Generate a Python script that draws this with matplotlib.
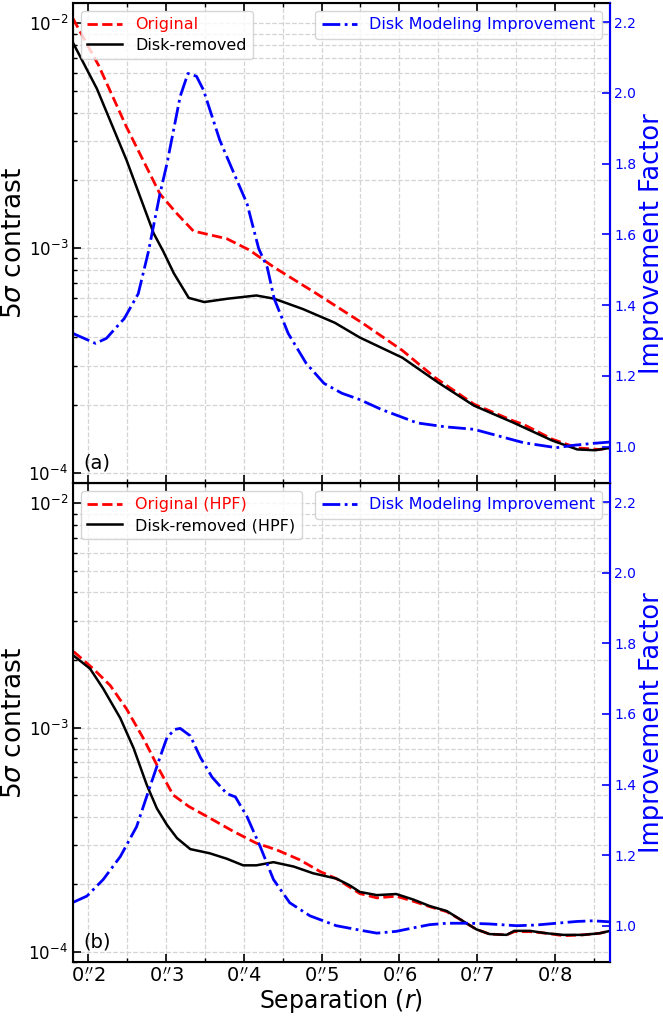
import numpy as np
import matplotlib
matplotlib.use('Agg')
import matplotlib.pyplot as plt
from matplotlib.ticker import FixedLocator, FuncFormatter, LogLocator, NullFormatter

# panel (a): full contrast curves
sep_a_orig = [0.180, 0.213, 0.249, 0.292, 0.314, 0.335, 0.378, 0.407, 0.439, 0.494, 0.554, 0.604,
              0.646, 0.696, 0.747, 0.760, 0.797, 0.829, 0.857, 0.871]
con_a_orig = [1.05e-2, 6.5e-3, 3.45e-3, 1.74e-3, 1.42e-3, 1.19e-3, 1.10e-3, 9.8e-4, 8.2e-4, 6.25e-4,
              4.6e-4, 3.5e-4, 2.65e-4, 2.02e-4, 1.70e-4, 1.64e-4, 1.41e-4, 1.29e-4, 1.27e-4, 1.29e-4]

sep_a_disk = [0.180, 0.211, 0.249, 0.284, 0.296, 0.310, 0.329, 0.349, 0.379, 0.416, 0.439, 0.476,
              0.517, 0.549, 0.604, 0.650, 0.696, 0.747, 0.797, 0.829, 0.852, 0.871]
con_a_disk = [8.2e-3, 5.1e-3, 2.46e-3, 1.16e-3, 9.7e-4, 7.7e-4, 6.0e-4, 5.75e-4, 5.95e-4, 6.15e-4,
              5.95e-4, 5.35e-4, 4.65e-4, 4.0e-4, 3.25e-4, 2.52e-4, 1.99e-4, 1.67e-4, 1.39e-4,
              1.27e-4, 1.26e-4, 1.29e-4]

sep_a_imp = [0.180, 0.209, 0.223, 0.246, 0.264, 0.277, 0.292, 0.301, 0.318, 0.328, 0.339, 0.348,
             0.369, 0.391, 0.404, 0.419, 0.430, 0.439, 0.457, 0.480, 0.503, 0.526, 0.549, 0.577,
             0.600, 0.623, 0.659, 0.696, 0.728, 0.760, 0.802, 0.825, 0.848, 0.871]
imp_a = [1.32, 1.292, 1.306, 1.362, 1.432, 1.55, 1.715, 1.80, 1.99, 2.055, 2.047, 2.008,
         1.866, 1.753, 1.687, 1.56, 1.507, 1.418, 1.32, 1.236, 1.179, 1.151, 1.133, 1.105,
         1.086, 1.067, 1.056, 1.049, 1.030, 1.011, 0.997, 1.004, 1.009, 1.013]

# panel (b): high-pass filtered curves
sep_b_orig = [0.181, 0.206, 0.228, 0.249, 0.271, 0.292, 0.309, 0.329, 0.356, 0.386, 0.416, 0.442,
              0.472, 0.498, 0.519, 0.549, 0.571, 0.596, 0.618, 0.639, 0.661, 0.682, 0.699, 0.716,
              0.738, 0.748, 0.768, 0.789, 0.811, 0.836, 0.858, 0.871]
con_b_orig = [2.18e-3, 1.83e-3, 1.54e-3, 1.21e-3, 8.9e-4, 6.4e-4, 5.0e-4, 4.45e-4, 3.95e-4, 3.45e-4,
              3.05e-4, 2.85e-4, 2.57e-4, 2.28e-4, 2.12e-4, 1.82e-4, 1.74e-4, 1.77e-4, 1.68e-4,
              1.59e-4, 1.51e-4, 1.37e-4, 1.26e-4, 1.20e-4, 1.19e-4, 1.23e-4, 1.23e-4, 1.21e-4,
              1.18e-4, 1.19e-4, 1.21e-4, 1.24e-4]

sep_b_disk = [0.181, 0.202, 0.219, 0.241, 0.258, 0.275, 0.288, 0.301, 0.314, 0.331, 0.356, 0.378,
              0.399, 0.416, 0.438, 0.464, 0.489, 0.519, 0.536, 0.549, 0.571, 0.596, 0.618, 0.639,
              0.661, 0.682, 0.699, 0.716, 0.738, 0.748, 0.768, 0.789, 0.811, 0.836, 0.858, 0.871]
con_b_disk = [2.09e-3, 1.83e-3, 1.49e-3, 1.10e-3, 8.1e-4, 5.55e-4, 4.36e-4, 3.68e-4, 3.21e-4,
              2.87e-4, 2.75e-4, 2.6e-4, 2.43e-4, 2.43e-4, 2.51e-4, 2.40e-4, 2.24e-4, 2.12e-4,
              1.98e-4, 1.85e-4, 1.79e-4, 1.81e-4, 1.71e-4, 1.60e-4, 1.52e-4, 1.37e-4, 1.26e-4,
              1.20e-4, 1.19e-4, 1.24e-4, 1.24e-4, 1.21e-4, 1.19e-4, 1.19e-4, 1.21e-4, 1.24e-4]

sep_b_imp = [0.181, 0.198, 0.219, 0.241, 0.262, 0.279, 0.292, 0.301, 0.311, 0.318, 0.331, 0.344,
             0.359, 0.378, 0.389, 0.404, 0.421, 0.438, 0.459, 0.485, 0.519, 0.536, 0.553, 0.571,
             0.596, 0.618, 0.639, 0.661, 0.691, 0.716, 0.751, 0.776, 0.802, 0.828, 0.849, 0.871]
imp_b = [1.067, 1.084, 1.131, 1.196, 1.281, 1.393, 1.477, 1.533, 1.556, 1.559, 1.538, 1.477,
         1.421, 1.374, 1.365, 1.309, 1.224, 1.131, 1.065, 1.028, 1.0, 0.993, 0.986, 0.979,
         0.984, 0.994, 1.003, 1.007, 1.007, 1.005, 1.0, 1.002, 1.007, 1.012, 1.014, 1.011]

x_ticks = [0.2, 0.3, 0.4, 0.5, 0.6, 0.7, 0.8]
imp_ticks = [1.0, 1.2, 1.4, 1.6, 1.8, 2.0, 2.2]

plt.rcParams['xtick.direction'] = 'in'
plt.rcParams['ytick.direction'] = 'in'


def arcsec_label(v, pos):
    whole, frac = f"{v:.1f}".split('.')
    return r"$%s\overset{\prime\prime}{.}%s$" % (whole, frac)


def draw_panel(ax, sep_o, con_o, sep_d, con_d, sep_i, imp, lab_o, lab_d, tag, show_x):
    ax.plot(sep_o, con_o, color='red', ls='--', lw=2, label=lab_o)
    ax.plot(sep_d, con_d, color='black', ls='-', lw=1.8, label=lab_d)
    ax.set_yscale('log')
    ax.set_ylim(9e-5, 1.23e-2)
    ax.set_xlim(0.18, 0.871)
    ax.xaxis.set_major_locator(FixedLocator(x_ticks))
    ax.xaxis.set_minor_locator(FixedLocator(np.arange(0.15, 0.9, 0.05)))
    ax.xaxis.set_major_formatter(FuncFormatter(arcsec_label))
    ax.yaxis.set_major_locator(LogLocator(base=10, numticks=10))
    ax.yaxis.set_minor_locator(LogLocator(base=10, subs=np.arange(2, 10), numticks=10))
    ax.yaxis.set_minor_formatter(NullFormatter())
    ax.tick_params(axis='x', which='both', top=True, labelsize=14)
    ax.tick_params(axis='x', which='major', length=6, width=1.2)
    ax.tick_params(axis='x', which='minor', length=3, width=1)
    ax.tick_params(axis='y', which='major', labelsize=12, length=6, width=1.2)
    ax.tick_params(axis='y', which='minor', length=3, width=1)
    if not show_x:
        ax.tick_params(axis='x', labelbottom=False)
    ax.grid(True, which='both', ls='--', color='#d4d4d4', lw=0.9)
    for s in ax.spines.values():
        s.set_linewidth(1.5)
    ax.set_ylabel(r"5$\sigma$ contrast", fontsize=19, labelpad=1)
    ax.text(0.02, 0.03, tag, transform=ax.transAxes, fontsize=14)
    ax.legend(loc='upper left', fontsize=11.5, labelcolor='linecolor', handlelength=2.2,
              labelspacing=0.35)

    ax2 = ax.twinx()
    ax2.plot(sep_i, imp, color='blue', ls='-.', lw=2, label='Disk Modeling Improvement')
    ax2.set_ylim(0.897, 2.254)
    ax2.yaxis.set_major_locator(FixedLocator(imp_ticks))
    ax2.tick_params(axis='y', colors='blue', labelsize=10, length=6, width=1.2, pad=3)
    ax2.spines['right'].set_color('blue')
    ax2.spines['right'].set_linewidth(1.5)
    ax2.set_ylabel('Improvement Factor', color='blue', fontsize=18.5, labelpad=2)
    ax2.legend(loc='upper right', fontsize=11.5, labelcolor='linecolor', handlelength=2.2)
    return ax2


fig = plt.figure(figsize=(6.63, 10.17), dpi=100)
ax_a = fig.add_axes([0.110, 0.525, 0.810, 0.472])
ax_b = fig.add_axes([0.110, 0.054, 0.810, 0.471], sharex=ax_a)

draw_panel(ax_a, sep_a_orig, con_a_orig, sep_a_disk, con_a_disk, sep_a_imp, imp_a,
           'Original', 'Disk-removed', '(a)', False)
draw_panel(ax_b, sep_b_orig, con_b_orig, sep_b_disk, con_b_disk, sep_b_imp, imp_b,
           'Original (HPF)', 'Disk-removed (HPF)', '(b)', True)
ax_b.set_xlabel(r"Separation ($r$)", fontsize=17, labelpad=1)

fig.savefig('out.png', dpi=100)
